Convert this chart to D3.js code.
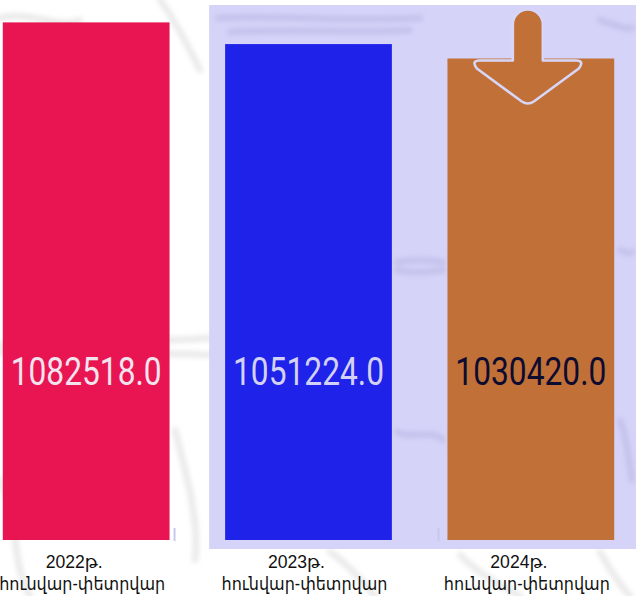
<!DOCTYPE html>
<html>
<head>
<meta charset="utf-8">
<script src="https://cdn.jsdelivr.net/npm/d3@7"></script>
<style>
  html, body { margin: 0; padding: 0; background: #ffffff; }
  svg { display: block; }
</style>
</head>
<body>
<svg id="chart" width="636" height="596"></svg>
<script>
// ---- data ----
const categories = ["2022թ.", "2023թ.", "2024թ."];
const subLabels = ["հունվար-փետրվար", "հունվար-փետրվար", "հունվար-փետրվար"];
const values = [1082518.0, 1051224.0, 1030420.0];
const barColors = ["#e91552", "#1f22e8", "#c17038"];
const valueTextColors = ["#f1e4ee", "#d3d1f5", "#0d0b30"];

const W = 636, H = 596;
const svg = d3.select("#chart");

const x = d3.scaleBand().domain(categories).range([-25, 642]).paddingInner(0.25).paddingOuter(0.125);
const y = d3.scaleLinear().domain([336000, 1114800]).range([540, 0]);

// faint watermark strokes
const defs = svg.append("defs");
defs.append("filter").attr("id", "blur").append("feGaussianBlur").attr("stdDeviation", 2.5);

const wm = svg.append("g").attr("filter", "url(#blur)").attr("fill", "none").attr("stroke-linecap", "round");
const grayStrokes = [
  "M0,18 C30,10 60,30 80,20", "M160,0 C175,20 190,50 200,70",
  "M0,345 C60,335 120,345 210,338", "M0,352 C60,360 130,350 210,355",
  "M175,430 C185,470 200,520 195,560", "M0,480 C20,520 10,560 30,596",
  "M330,552 C350,565 365,585 375,596", "M460,555 C480,575 500,585 520,596",
  "M600,552 C610,570 620,585 630,596"
];
wm.selectAll("path.g").data(grayStrokes).join("path")
  .attr("d", d => d).attr("stroke", "#e8e8e8").attr("stroke-width", 6);

// lavender panel
svg.append("rect")
  .attr("x", x(categories[1]) - 16).attr("y", 5)
  .attr("width", W - (x(categories[1]) - 16)).attr("height", 544)
  .attr("fill", "#d5d3f8");

const wm2 = svg.append("g").attr("filter", "url(#blur)").attr("fill", "none").attr("stroke-linecap", "round");
const lavStrokes = [
  "M218,18 C280,15 350,22 420,18", "M230,32 C300,28 360,34 410,30",
  "M600,20 C615,25 625,30 632,28",
  "M397,262 C420,258 440,262 443,262", "M397,270 C420,275 440,270 443,270",
  "M620,250 C625,252 630,255 632,252",
  "M397,432 C410,440 430,428 443,440", "M620,420 C628,440 630,470 632,480"
];
wm2.selectAll("path").data(lavStrokes).join("path")
  .attr("d", d => d).attr("stroke", "#c3c1ea").attr("stroke-width", 6);

// bars
svg.append("g").selectAll("rect").data(values).join("rect")
  .attr("x", (d, i) => x(categories[i]))
  .attr("y", d => y(d))
  .attr("width", x.bandwidth())
  .attr("height", d => y(y.domain()[0]) - y(d))
  .attr("fill", (d, i) => barColors[i]);

// small tick marks
const tickXs = [x(categories[0]) + x.bandwidth() + 5, x(categories[2]) - 9];
svg.append("g").selectAll("line").data(tickXs).join("line")
  .attr("x1", d => d).attr("x2", d => d)
  .attr("y1", 528).attr("y2", 541)
  .attr("stroke", "#c9c8ec").attr("stroke-width", 2);

// down arrow on the last bar
const lastCat = categories[2];
const ax = x(lastCat) + x.bandwidth() / 2 - 3;
const at = y(values[2]) + 3;
const arrowPath = [
  `M${ax - 15},${at - 1}`,
  `L${ax - 15},${at - 37}`,
  `A15,15 0 0 1 ${ax + 15},${at - 37}`,
  `L${ax + 15},${at - 1}`,
  `L${ax + 48},${at - 1}`,
  `Q${ax + 57},${at - 1} ${ax + 51},${at + 7}`,
  `L${ax + 6},${at + 40}`,
  `Q${ax},${at + 44} ${ax - 6},${at + 40}`,
  `L${ax - 51},${at + 7}`,
  `Q${ax - 57},${at - 1} ${ax - 48},${at - 1}`,
  "Z"
].join(" ");
svg.append("path").attr("d", arrowPath)
  .attr("fill", barColors[2]).attr("stroke", "#d8d6f8").attr("stroke-width", 2.6)
  .attr("stroke-linejoin", "round");

// value labels
svg.append("g").selectAll("text").data(values).join("text")
  .attr("x", (d, i) => x(categories[i]) + x.bandwidth() / 2)
  .attr("y", 385)
  .attr("text-anchor", "middle")
  .attr("font-family", "Roboto, 'Liberation Sans', sans-serif")
  .attr("font-size", 39)
  .attr("textLength", 151)
  .attr("lengthAdjust", "spacingAndGlyphs")
  .attr("fill", (d, i) => valueTextColors[i])
  .text(d => d.toFixed(1));

// category labels
const lab = svg.append("g")
  .attr("font-family", "'Liberation Sans', Arial, 'Noto Sans', 'DejaVu Sans', sans-serif")
  .attr("font-size", 18).attr("fill", "#111111").attr("text-anchor", "middle");
categories.forEach((c, i) => {
  const cx = x(c) + x.bandwidth() / 2 - 4;
  lab.append("text").attr("x", cx - 8).attr("y", 568)
    .attr("textLength", 57).attr("lengthAdjust", "spacingAndGlyphs").text(c);
  lab.append("text").attr("x", cx).attr("y", 590)
    .attr("textLength", 166).attr("lengthAdjust", "spacingAndGlyphs").text(subLabels[i]);
});
</script>
</body>
</html>
